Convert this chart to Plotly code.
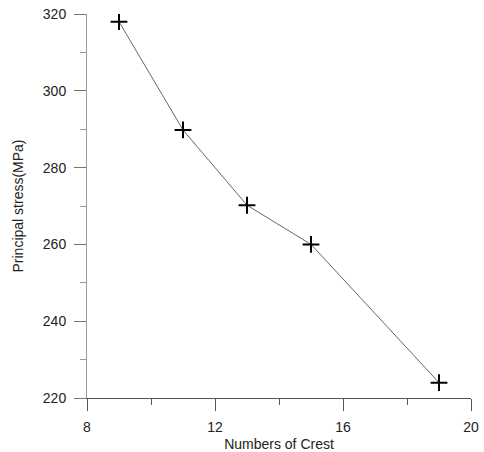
import plotly.graph_objects as go

crest = [9, 11, 13, 15, 19]
stress = [318, 289.8, 270.2, 260, 224]

fig = go.Figure()
fig.add_trace(go.Scatter(
    x=crest, y=stress, mode="lines+markers",
    line=dict(color="#666666", width=1),
    marker=dict(symbol="cross-thin", size=12, color="black",
                line=dict(color="black", width=2)),
    showlegend=False,
))

font = dict(family="Liberation Sans, Arial, sans-serif", size=14, color="#222222")
fig.update_layout(
    width=484, height=452,
    margin=dict(l=87, r=13, t=14, b=54, autoexpand=False),
    paper_bgcolor="white", plot_bgcolor="white",
    font=font,
    xaxis=dict(
        range=[8, 20], tick0=8, dtick=4, showgrid=False, zeroline=False, automargin=False,
        showline=True, linecolor="#555555", linewidth=1,
        ticks="outside", ticklen=12, tickcolor="#555555", ticklabeloverflow="allow",
        ticklabelstandoff=4,
        minor=dict(dtick=2, tick0=8, ticks="outside", ticklen=6, tickcolor="#555555", showgrid=False),
        title=dict(text="Numbers of Crest", standoff=6, font=font),
        tickfont=font,
    ),
    yaxis=dict(
        range=[220, 320], tick0=220, dtick=20, showgrid=False, zeroline=False, automargin=False,
        showline=True, linecolor="#999999", linewidth=1,
        ticks="outside", ticklen=12, tickcolor="#777777", ticklabeloverflow="allow",
        ticklabelstandoff=5,
        minor=dict(dtick=10, tick0=220, ticks="outside", ticklen=6, tickcolor="#999999", showgrid=False),
        title=dict(text="Principal stress(MPa)", standoff=15, font=font),
        tickfont=font,
    ),
)
fig.write_html("out.html", config={"displayModeBar": False},
               post_script="document.body.style.margin='0';")
